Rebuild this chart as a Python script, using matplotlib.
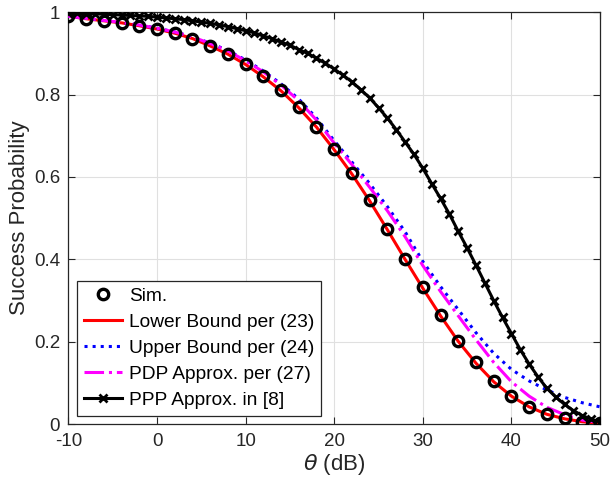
import numpy as np
import matplotlib
matplotlib.use("Agg")
import matplotlib.pyplot as plt

plt.rcParams['font.family'] = ['Liberation Sans', 'DejaVu Sans']
plt.rcParams['mathtext.fontset'] = 'dejavusans'
plt.rcParams['axes.unicode_minus'] = False

# theta (dB) grids
theta_2 = list(range(-10, 51, 2))
theta_1 = list(range(-10, 51, 1))

sim = [0.990, 0.983, 0.979, 0.974, 0.967, 0.959, 0.949, 0.936, 0.918, 0.899,
       0.874, 0.844, 0.810, 0.769, 0.722, 0.667, 0.609, 0.544, 0.474, 0.402,
       0.332, 0.265, 0.202, 0.150, 0.104, 0.068, 0.042, 0.025, 0.014, 0.006, 0.002]

lower = [0.990, 0.984, 0.979, 0.974, 0.967, 0.959, 0.949, 0.936, 0.918, 0.898,
         0.873, 0.843, 0.809, 0.768, 0.721, 0.666, 0.607, 0.542, 0.472, 0.400,
         0.330, 0.263, 0.201, 0.148, 0.103, 0.068, 0.042, 0.024, 0.013, 0.006, 0.002]

upper = [0.990, 0.985, 0.980, 0.975, 0.969, 0.961, 0.952, 0.940, 0.925, 0.907,
         0.884, 0.857, 0.826, 0.789, 0.743, 0.688, 0.636, 0.584, 0.528, 0.467,
         0.395, 0.334, 0.278, 0.222, 0.172, 0.133, 0.105, 0.083, 0.065, 0.052, 0.042]

pdp = [0.990, 0.985, 0.980, 0.975, 0.969, 0.961, 0.952, 0.940, 0.924, 0.906,
       0.882, 0.855, 0.823, 0.785, 0.738, 0.682, 0.630, 0.575, 0.518, 0.455,
       0.385, 0.322, 0.263, 0.205, 0.150, 0.103, 0.068, 0.041, 0.023, 0.010, 0.004]

ppp = [0.997, 0.997, 0.996, 0.996, 0.995, 0.994, 0.993, 0.992, 0.991, 0.990,
       0.988, 0.986, 0.984, 0.982, 0.979, 0.976, 0.973, 0.969, 0.965, 0.960,
       0.955, 0.950, 0.942, 0.936, 0.927, 0.920, 0.909, 0.900, 0.888, 0.876,
       0.862, 0.847, 0.831, 0.812, 0.792, 0.768, 0.743, 0.715, 0.685, 0.655,
       0.621, 0.584, 0.548, 0.510, 0.468, 0.428, 0.386, 0.343, 0.300, 0.259,
       0.220, 0.181, 0.146, 0.115, 0.087, 0.066, 0.048, 0.033, 0.021, 0.012, 0.005]

xticks = [-10, 0, 10, 20, 30, 40, 50]
xtick_labels = ['-10', '0', '10', '20', '30', '40', '50']
yticks = [0, 0.2, 0.4, 0.6, 0.8, 1]
ytick_labels = ['0', '0.2', '0.4', '0.6', '0.8', '1']

fig = plt.figure(figsize=(6.11, 4.87), dpi=100)
ax = fig.add_axes([0.112, 0.129, 0.870, 0.846])

dark = (0.15, 0.15, 0.15)

ax.plot(theta_2, sim, linestyle='none', marker='o', markersize=7.5,
        markerfacecolor='none', markeredgecolor='black', markeredgewidth=2.4,
        label='Sim.', zorder=5)
ax.plot(theta_2, lower, color='red', linewidth=2.2, label='Lower Bound per (23)', zorder=3)
ax.plot(theta_2, upper, color='blue', linestyle=':', linewidth=2.2,
        label='Upper Bound per (24)', zorder=3)
ax.plot(theta_2, pdp, color='magenta', linestyle='-.', linewidth=2.2,
        label='PDP Approx. per (27)', zorder=3)
ax.plot(theta_1, ppp, color='black', linewidth=2.2, marker='x', markersize=5.5,
        markeredgewidth=2.0, label='PPP Approx. in [8]', zorder=4)

ax.set_xlim(-10, 50)
ax.set_ylim(0, 1)
ax.set_xticks(xticks)
ax.set_xticklabels(xtick_labels)
ax.set_yticks(yticks)
ax.set_yticklabels(ytick_labels)
ax.grid(True, color=(0.88, 0.88, 0.88), linewidth=0.8)
ax.set_axisbelow(True)
ax.tick_params(direction='in', length=5, width=0.8, colors=dark, labelsize=13.5,
               top=True, right=True, labelcolor=dark)
ax.tick_params(axis='y', pad=6)
ax.tick_params(axis='x', pad=6)
for s in ax.spines.values():
    s.set_color(dark)
    s.set_linewidth(0.9)

ax.set_xlabel(r'$\theta$ (dB)', fontsize=16, color=dark, labelpad=2)
ax.set_ylabel('Success Probability', fontsize=16, color=dark, labelpad=3)

leg = ax.legend(loc='lower left', bbox_to_anchor=(0.0, 0.0), fontsize=13.8,
                frameon=True, fancybox=False, edgecolor=dark, framealpha=1,
                handlelength=2.0, handletextpad=0.35, labelspacing=0.45,
                borderpad=0.35, borderaxespad=0.45)
leg.get_frame().set_linewidth(0.9)

fig.savefig('out.png', dpi=100)
